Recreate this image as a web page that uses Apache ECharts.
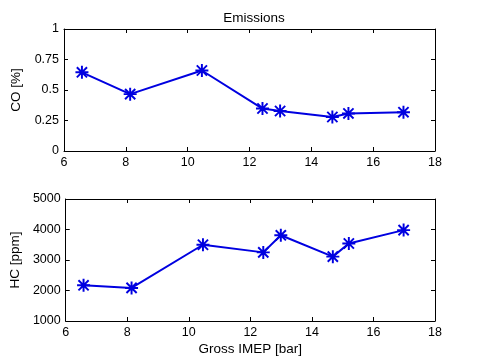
<!DOCTYPE html>
<html>
<head>
<meta charset="utf-8">
<script src="https://cdn.jsdelivr.net/npm/echarts@6/dist/echarts.min.js"></script>
<style>
html,body{margin:0;padding:0;background:#fff;}
#chart{width:482px;height:362px;}
</style>
</head>
<body>
<div id="chart"></div>
<script>
// Data
var imep = [6.58, 8.14, 10.46, 12.42, 12.99, 14.68, 15.2, 16.98];
var coValues = [0.645, 0.466, 0.66, 0.348, 0.328, 0.279, 0.308, 0.318];
var hcValues = [2170, 2085, 3500, 3250, 3810, 3110, 3540, 3980];
var xTicks = [6, 8, 10, 12, 14, 16, 18];
var coTicks = [0, 0.25, 0.5, 0.75, 1];
var hcTicks = [1000, 2000, 3000, 4000, 5000];

function pairs(xs, ys) { return xs.map(function (x, i) { return [x, ys[i]]; }); }

var FONT = 'Liberation Sans, Arial, Helvetica, sans-serif';
var star = 'path://M8.5 0L11.5 0L11.5 20L8.5 20Z M0 8.5L20 8.5L20 11.5L0 11.5Z M1.1 3.2L3.2 1.1L18.9 16.8L16.8 18.9Z M16.8 1.1L18.9 3.2L3.2 18.9L1.1 16.8Z';
var blue = '#0000e0';

function plain(v) { return String(v); }

function xAx(gi, ticks, pos, showLabels, name) {
  return {
    type: 'value', gridIndex: gi, position: pos,
    min: ticks[0], max: ticks[ticks.length - 1], interval: ticks[1] - ticks[0],
    axisLine: { show: true, onZero: false, lineStyle: { color: '#000', width: 1 } },
    axisTick: { show: true, inside: true, length: 4, lineStyle: { color: '#000' } },
    axisLabel: { show: showLabels, color: '#000', fontFamily: FONT, fontSize: 12.5, margin: 5, formatter: plain },
    splitLine: { show: false },
    name: name || '', nameLocation: 'middle', nameGap: 21,
    nameTextStyle: { color: '#000', fontFamily: FONT, fontSize: 13.5 }
  };
}
function yAx(gi, ticks, pos, showLabels, name, gap) {
  return {
    type: 'value', gridIndex: gi, position: pos,
    min: ticks[0], max: ticks[ticks.length - 1], interval: ticks[1] - ticks[0],
    axisLine: { show: true, onZero: false, lineStyle: { color: '#000', width: 1 } },
    axisTick: { show: true, inside: true, length: 4, lineStyle: { color: '#000' } },
    axisLabel: { show: showLabels, color: '#000', fontFamily: FONT, fontSize: 12.5, margin: 5, formatter: plain },
    splitLine: { show: false },
    name: name || '', nameLocation: 'middle', nameGap: gap || 30,
    nameTextStyle: { color: '#000', fontFamily: FONT, fontSize: 13.5 }
  };
}

var chart = echarts.init(document.getElementById('chart'), null, { renderer: 'canvas' });
chart.setOption({
  animation: false,
  backgroundColor: '#fff',
  title: {
    text: 'Emissions', left: 249, top: 6, textAlign: 'center',
    textStyle: { color: '#000', fontFamily: FONT, fontSize: 13.5, fontWeight: 'normal' }
  },
  grid: [
    { left: 64, top: 29, width: 371, height: 122 },
    { left: 64, top: 199, width: 371, height: 122 }
  ],
  xAxis: [
    xAx(0, xTicks, 'bottom', true),
    xAx(0, xTicks, 'top', false),
    xAx(1, xTicks, 'bottom', true, 'Gross IMEP [bar]'),
    xAx(1, xTicks, 'top', false)
  ],
  yAxis: [
    yAx(0, coTicks, 'left', true, 'CO [%]', 37),
    yAx(0, coTicks, 'right', false),
    yAx(1, hcTicks, 'left', true, 'HC [ppm]', 41),
    yAx(1, hcTicks, 'right', false)
  ],
  series: [
    {
      type: 'line', xAxisIndex: 0, yAxisIndex: 0, data: pairs(imep, coValues),
      symbol: star, symbolSize: 13, showAllSymbol: true,
      lineStyle: { color: blue, width: 2 }, itemStyle: { color: blue }
    },
    {
      type: 'line', xAxisIndex: 2, yAxisIndex: 2, data: pairs(imep, hcValues),
      symbol: star, symbolSize: 13, showAllSymbol: true,
      lineStyle: { color: blue, width: 2 }, itemStyle: { color: blue }
    }
  ]
});
</script>
</body>
</html>
